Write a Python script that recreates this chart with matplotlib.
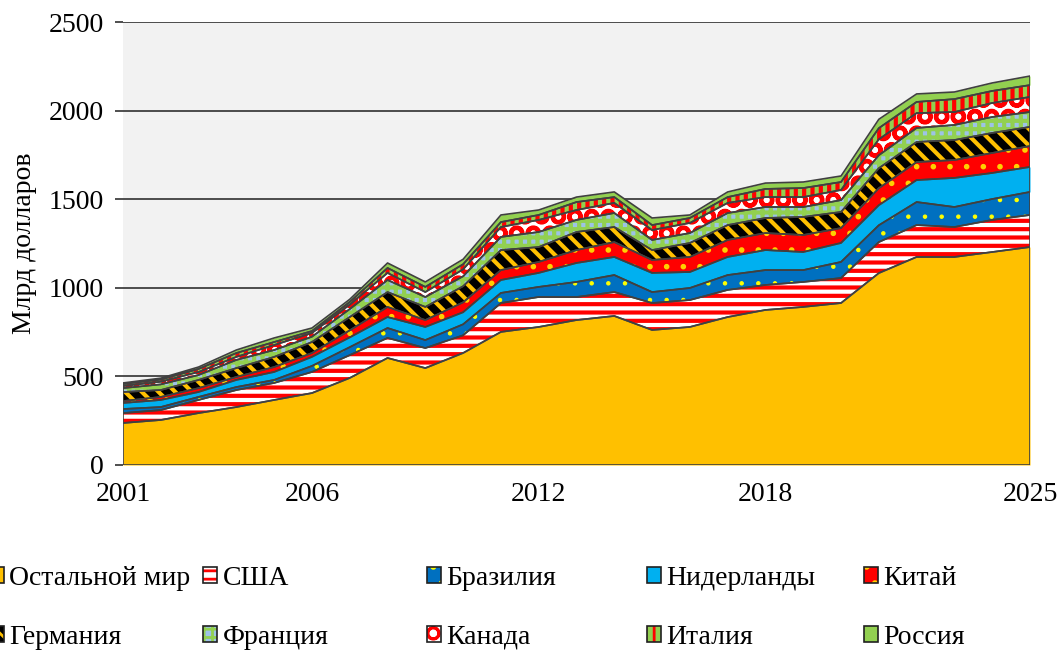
import matplotlib.pyplot as plt
import numpy as np
from matplotlib.patches import Patch

plt.rcParams['font.family'] = ['Liberation Serif', 'DejaVu Serif']
plt.rcParams['hatch.linewidth'] = 2.0

years = np.arange(2001, 2026)

# млрд долларов, по странам (снизу вверх)
rest    = [237, 254, 293, 327, 367, 406, 491, 604, 547, 632, 751, 779, 818, 841, 762, 779, 835, 875, 892, 914, 1083, 1174, 1174, 1202, 1230]
usa     = [56, 56, 74, 96, 96, 119, 129, 113, 113, 100, 163, 169, 130, 135, 152, 152, 153, 141, 141, 141, 175, 180, 169, 181, 181]
brazil  = [23, 17, 17, 17, 17, 34, 45, 56, 45, 62, 57, 57, 85, 96, 62, 68, 84, 84, 67, 91, 95, 130, 113, 118, 130]
nether  = [34, 40, 28, 40, 45, 51, 55, 62, 74, 68, 73, 79, 107, 102, 108, 90, 102, 113, 102, 107, 113, 124, 164, 147, 141]
china   = [11, 17, 22, 17, 28, 22, 40, 57, 39, 56, 56, 62, 73, 84, 73, 85, 96, 96, 96, 84, 96, 102, 101, 113, 118]
germany = [51, 39, 46, 50, 57, 62, 75, 84, 74, 91, 113, 84, 102, 85, 56, 79, 84, 85, 102, 91, 113, 113, 113, 113, 108]
france  = [22, 32, 28, 46, 39, 30, 45, 68, 56, 56, 74, 85, 68, 79, 57, 56, 68, 62, 56, 67, 73, 79, 85, 90, 84]
canada  = [12, 15, 17, 17, 28, 21, 25, 40, 28, 39, 56, 68, 56, 57, 56, 57, 57, 56, 56, 57, 90, 84, 73, 79, 85]
italy   = [11, 12, 17, 22, 17, 11, 15, 28, 29, 29, 28, 28, 45, 33, 28, 28, 33, 46, 51, 45, 63, 63, 73, 68, 67]
russia  = [6, 8, 11, 17, 23, 17, 15, 28, 28, 28, 40, 28, 28, 29, 40, 17, 29, 33, 34, 34, 50, 45, 40, 45, 51]

labels = ['Остальной мир', 'США', 'Бразилия', 'Нидерланды', 'Китай',
          'Германия', 'Франция', 'Канада', 'Италия', 'Россия']
series = [rest, usa, brazil, nether, china, germany, france, canada, italy, russia]

# (facecolor, hatch, hatch color, hatch linewidth)
styles = [
    ('#FFC000', None, '#FFC000', 1.0),
    ('white', '--', '#FF0000', 3.0),
    ('#0070C0', '.', '#FFFF00', 0.8),
    ('#00B0F0', None, '#00B0F0', 1.0),
    ('#FF0000', '.', '#FFD000', 1.6),
    ('black', '\\\\', '#FFC000', 3.0),
    ('#9DC3E6', '++', '#92D050', 3.0),
    ('white', 'O', '#FF0000', 3.0),
    ('#92D050', '||', '#FF0000', 3.0),
    ('#92D050', None, '#92D050', 1.0),
]
outline = '#404040'

fig = plt.figure(figsize=(10.59, 6.52), dpi=100)
ax = fig.add_axes([123/1059, 1-465/652, (1030-123)/1059, (465-22)/652])
ax.set_facecolor('#F2F2F2')

bottom = np.zeros(len(years))
for vals, (fc, h, hc, hlw) in zip(series, styles):
    top = bottom + np.array(vals)
    c = ax.fill_between(years, bottom, top, facecolor=fc, hatch=h,
                        edgecolor=hc, linewidth=0, zorder=2)
    if hasattr(c, 'set_hatch_linewidth'):
        c.set_hatch_linewidth(hlw)
    ax.fill_between(years, bottom, top, facecolor='none', edgecolor=outline,
                    linewidth=1.2, zorder=3)
    bottom = top

ax.set_xlim(2001, 2025)
ax.set_ylim(0, 2500)
ax.set_xticks([2001, 2006, 2012, 2018, 2025])
ax.set_yticks(np.arange(0, 2501, 500))
ax.yaxis.grid(True, color='#303030', linewidth=1.2, zorder=0)
ax.set_axisbelow(True)
for s in ax.spines.values():
    s.set_visible(False)
ax.tick_params(axis='y', length=6, width=1.2, color='#303030', pad=8, labelsize=20)
ax.tick_params(axis='x', length=0, pad=12, labelsize=20)
ax.set_ylabel('Млрд долларов', fontsize=20, labelpad=8)

# legend: 5 columns x 2 rows
col_x = [-10, 203, 427, 647, 864]
for j in range(5):
    hs, ls = [], []
    for i in (j, j + 5):
        fc, h, hc, hlw = styles[i]
        p1 = Patch(facecolor=fc, hatch=h, edgecolor=hc, linewidth=0)
        p2 = Patch(facecolor='none', edgecolor='#202020', linewidth=1.2)
        hs.append((p1, p2))
        ls.append(labels[i])
    fig.legend(hs, ls, loc='upper left', bbox_to_anchor=(col_x[j]/1059, 1-566/652),
               frameon=False, fontsize=20, handlelength=0.5, handleheight=0.5,
               handletextpad=0.2, labelspacing=1.22, borderpad=0, borderaxespad=0)

fig.savefig('out.png', dpi=100)
